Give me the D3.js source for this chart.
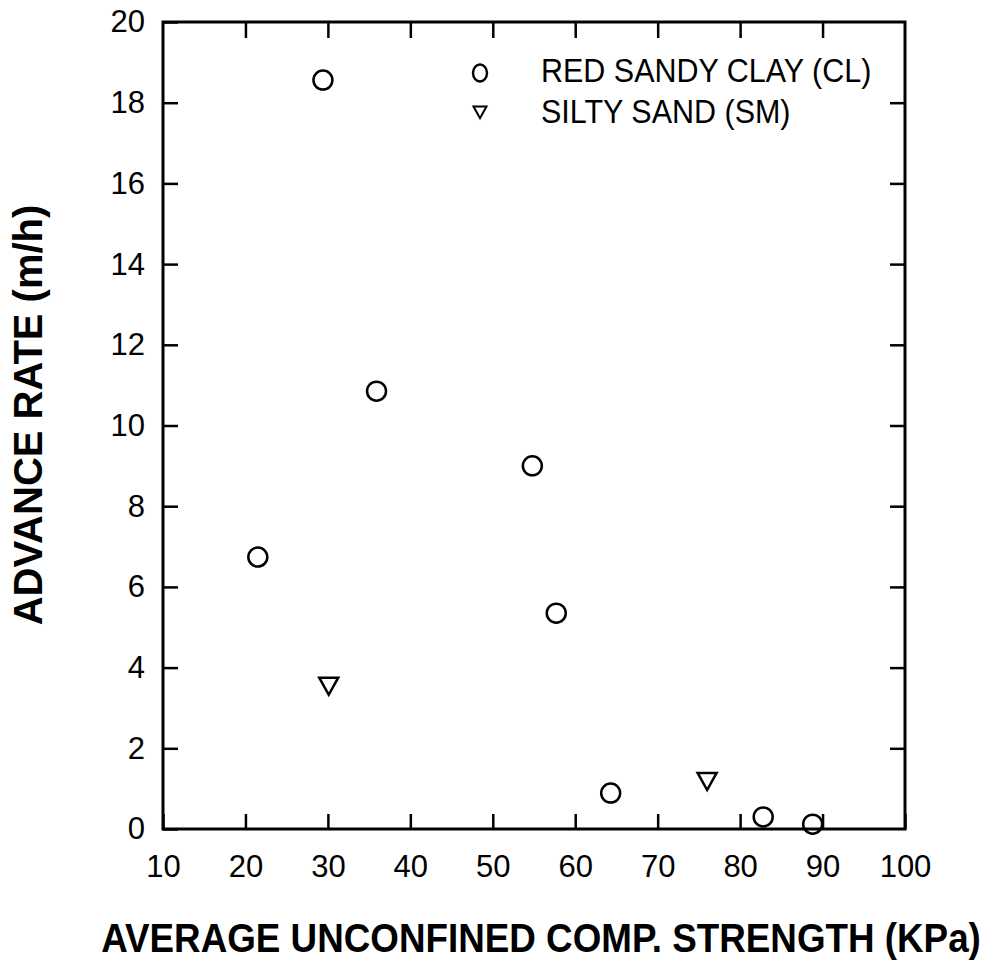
<!DOCTYPE html>
<html lang="en">
<head>
<meta charset="UTF-8">
<title>Advance rate vs unconfined compressive strength</title>
<script src="https://d3js.org/d3.v7.min.js"></script>
<style>
  body { margin: 0; background: #fff; }
  svg { display: block; font-family: Arial, 'Liberation Sans', sans-serif; }
  .tick text { font-size: 31px; fill: #000; }
  .tick line { stroke: #000; stroke-width: 2.5; }
</style>
</head>
<body>
<svg id="chart" width="985" height="962"></svg>
<script>
  // data: strength (kPa) vs advance rate (m/h)
  const clayStrength = [21.5, 29.4, 35.9, 54.8, 57.7, 64.3, 82.8, 88.8];
  const clayRate     = [6.74, 18.56, 10.85, 9.0, 5.35, 0.89, 0.30, 0.12];
  const sandStrength = [30.1, 76.0];
  const sandRate     = [3.55, 1.19];
  const xTicks = [10, 20, 30, 40, 50, 60, 70, 80, 90, 100];
  const yTicks = [0, 2, 4, 6, 8, 10, 12, 14, 16, 18, 20];
  const legendLabels = ["RED SANDY CLAY (CL)", "SILTY SAND (SM)"];

  const svg = d3.select("#chart");
  const margin = { left: 163, right: 905, top: 22, bottom: 829 };
  const w = margin.right - margin.left, h = margin.bottom - margin.top;

  const x = d3.scaleLinear().domain([10, 100]).range([0, w]);
  const y = d3.scaleLinear().domain([0, 20]).range([h, 0]);

  const g = svg.append("g").attr("transform", `translate(${margin.left},${margin.top})`);

  // bottom axis with labels, ticks pointing into the plot
  g.append("g")
    .attr("transform", `translate(0,${h})`)
    .call(d3.axisBottom(x).tickValues(xTicks).tickSizeInner(-15).tickSizeOuter(0).tickPadding(26))
    .call(a => a.select(".domain").remove());

  g.append("g")
    .call(d3.axisLeft(y).tickValues(yTicks).tickSizeInner(-15).tickSizeOuter(0).tickPadding(18))
    .call(a => a.select(".domain").remove());

  // top and right: ticks only
  g.append("g")
    .call(d3.axisTop(x).tickValues(xTicks.slice(1, -1)).tickSizeInner(-16).tickSizeOuter(0).tickFormat(""))
    .call(a => a.select(".domain").remove());

  g.append("g")
    .attr("transform", `translate(${w},0)`)
    .call(d3.axisRight(y).tickValues(yTicks.slice(1, -1)).tickSizeInner(-15).tickSizeOuter(0).tickFormat(""))
    .call(a => a.select(".domain").remove());

  g.append("rect")
    .attr("width", w).attr("height", h)
    .attr("fill", "none").attr("stroke", "#000").attr("stroke-width", 3);

  // down-pointing triangle
  const tri = (s) => `M${-s},${-s * 0.85}L${s},${-s * 0.85}L0,${s * 0.95}Z`;

  g.append("g").selectAll("circle")
    .data(clayStrength.map((v, i) => [v, clayRate[i]]))
    .join("circle")
    .attr("cx", d => x(d[0])).attr("cy", d => y(d[1]))
    .attr("r", 9.5)
    .attr("fill", "none").attr("stroke", "#000").attr("stroke-width", 2.5);

  g.append("g").selectAll("path")
    .data(sandStrength.map((v, i) => [v, sandRate[i]]))
    .join("path")
    .attr("transform", d => `translate(${x(d[0])},${y(d[1])})`)
    .attr("d", tri(9.5))
    .attr("fill", "none").attr("stroke", "#000").attr("stroke-width", 2.5)
    .attr("stroke-linejoin", "miter");

  // legend
  const legend = svg.append("g");
  legend.append("ellipse")
    .attr("cx", 480).attr("cy", 73).attr("rx", 7).attr("ry", 8.5)
    .attr("fill", "none").attr("stroke", "#000").attr("stroke-width", 2.4);
  legend.append("path")
    .attr("transform", "translate(480,112)")
    .attr("d", tri(6.5))
    .attr("fill", "none").attr("stroke", "#000").attr("stroke-width", 2);
  legend.selectAll("text")
    .data(legendLabels)
    .join("text")
    .attr("transform", (d, i) => `translate(541,${82 + i * 41}) scale(1,1.06)`)
    .attr("font-size", 30.5)
    .text(d => d);

  // axis titles
  svg.append("text")
    .attr("transform", "translate(541,952) scale(1,1.12)")
    .attr("text-anchor", "middle")
    .attr("font-size", 36.8).attr("font-weight", "bold")
    .text("AVERAGE UNCONFINED COMP. STRENGTH (KPa)");

  svg.append("text")
    .attr("transform", "translate(42,415) rotate(-90)")
    .attr("text-anchor", "middle")
    .attr("font-size", 40).attr("font-weight", "bold")
    .text("ADVANCE RATE (m/h)");
</script>
</body>
</html>
